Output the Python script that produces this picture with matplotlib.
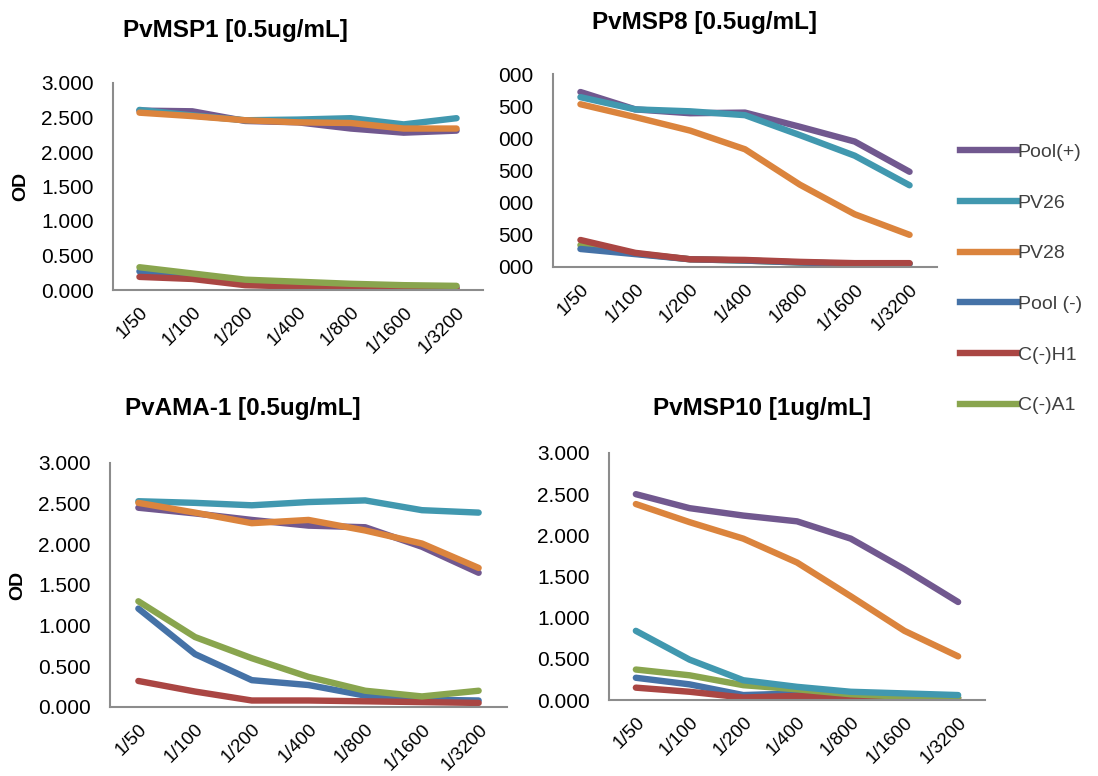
import matplotlib
matplotlib.use("Agg")
import matplotlib.pyplot as plt
from matplotlib.lines import Line2D

W, H = 1098, 776
categories = ["1/50", "1/100", "1/200", "1/400", "1/800", "1/1600", "1/3200"]
series_names = ["Pool(+)", "PV26", "PV28", "Pool (-)", "C(-)H1", "C(-)A1"]
colors = ["#71588F", "#4198AF", "#DB843D", "#4572A7", "#AA4643", "#89A54E"]

# PvMSP1 [0.5ug/mL]
msp1_pool_pos = [2.60, 2.59, 2.45, 2.43, 2.34, 2.28, 2.31]
msp1_pv26 = [2.61, 2.53, 2.46, 2.47, 2.49, 2.40, 2.49]
msp1_pv28 = [2.57, 2.52, 2.46, 2.43, 2.42, 2.34, 2.34]
msp1_pool_neg = [0.27, 0.20, 0.08, 0.06, 0.05, 0.04, 0.04]
msp1_ch1 = [0.19, 0.16, 0.07, 0.05, 0.03, 0.02, 0.02]
msp1_ca1 = [0.33, 0.24, 0.15, 0.12, 0.09, 0.07, 0.06]

# PvMSP8 [0.5ug/mL]
msp8_pool_pos = [2.72, 2.45, 2.39, 2.40, 2.18, 1.95, 1.48]
msp8_pv26 = [2.64, 2.45, 2.42, 2.36, 2.05, 1.73, 1.27]
msp8_pv28 = [2.53, 2.33, 2.12, 1.83, 1.28, 0.82, 0.50]
msp8_pool_neg = [0.28, 0.20, 0.12, 0.10, 0.07, 0.05, 0.05]
msp8_ch1 = [0.42, 0.22, 0.12, 0.11, 0.08, 0.06, 0.06]
msp8_ca1 = [0.34, 0.21, 0.12, 0.10, 0.07, 0.05, 0.05]

# PvAMA-1 [0.5ug/mL]
ama1_pool_pos = [2.45, 2.38, 2.30, 2.23, 2.21, 1.97, 1.65]
ama1_pv26 = [2.53, 2.51, 2.48, 2.52, 2.54, 2.42, 2.39]
ama1_pv28 = [2.51, 2.39, 2.26, 2.30, 2.17, 2.01, 1.71]
ama1_pool_neg = [1.21, 0.65, 0.33, 0.27, 0.14, 0.09, 0.08]
ama1_ch1 = [0.32, 0.19, 0.08, 0.08, 0.07, 0.06, 0.05]
ama1_ca1 = [1.30, 0.86, 0.60, 0.37, 0.20, 0.13, 0.20]

# PvMSP10 [1ug/mL]
msp10_pool_pos = [2.50, 2.33, 2.24, 2.17, 1.96, 1.59, 1.19]
msp10_pv26 = [0.84, 0.49, 0.24, 0.16, 0.10, 0.08, 0.06]
msp10_pv28 = [2.38, 2.16, 1.96, 1.67, 1.26, 0.84, 0.53]
msp10_pool_neg = [0.27, 0.19, 0.06, 0.08, 0.05, 0.04, 0.03]
msp10_ch1 = [0.15, 0.10, 0.03, 0.05, 0.03, 0.02, 0.02]
msp10_ca1 = [0.37, 0.30, 0.18, 0.13, 0.07, 0.04, 0.03]

y_ticks = [0.0, 0.5, 1.0, 1.5, 2.0, 2.5, 3.0]
y_labels = ["0.000", "0.500", "1.000", "1.500", "2.000", "2.500", "3.000"]
y_labels_cut = ["000", "500", "000", "500", "000", "500", "000"]

panels = [
    dict(title="PvMSP1 [0.5ug/mL]", rect=(113, 483, 83, 290), tpos=(235, 31), od=True,
         data=[msp1_pool_pos, msp1_pv26, msp1_pv28, msp1_pool_neg, msp1_ch1, msp1_ca1],
         order=[0, 1, 2, 3, 4, 5], ylab=y_labels),
    dict(title="PvMSP8 [0.5ug/mL]", rect=(553, 937, 74, 267), tpos=(705, 22), od=False,
         data=[msp8_pool_pos, msp8_pv26, msp8_pv28, msp8_pool_neg, msp8_ch1, msp8_ca1],
         order=[0, 1, 2, 5, 3, 4], ylab=y_labels_cut),
    dict(title="PvAMA-1 [0.5ug/mL]", rect=(110, 507, 463, 707), tpos=(243, 409), od=True,
         data=[ama1_pool_pos, ama1_pv26, ama1_pv28, ama1_pool_neg, ama1_ch1, ama1_ca1],
         order=[0, 1, 2, 3, 4, 5], ylab=y_labels),
    dict(title="PvMSP10 [1ug/mL]", rect=(609, 985, 453, 700), tpos=(762, 409), od=False,
         data=[msp10_pool_pos, msp10_pv26, msp10_pv28, msp10_pool_neg, msp10_ch1, msp10_ca1],
         order=[0, 2, 3, 4, 5, 1], ylab=y_labels),
]

plt.rcParams["font.family"] = ["Liberation Sans", "DejaVu Sans"]
fig = plt.figure(figsize=(W / 100, H / 100), dpi=100)
fig.patch.set_facecolor("white")

axis_col = "#8C8C8C"
x = list(range(len(categories)))
for p in panels:
    l, r, t, b = p["rect"]
    ax = fig.add_axes([l / W, 1 - b / H, (r - l) / W, (b - t) / H])
    for k in p["order"]:
        ax.plot(x, p["data"][k], color=colors[k], lw=4.6, solid_capstyle="round",
                solid_joinstyle="round", label=series_names[k])
    ax.set_xlim(-0.5, len(categories) - 0.5)
    ax.set_ylim(0, 3.0)
    ax.set_yticks(y_ticks)
    ax.set_yticklabels(p["ylab"], fontsize=15)
    ax.set_xticks(x)
    ax.set_xticklabels(categories, fontsize=13.5, rotation=45, ha="right", va="top",
                       rotation_mode="anchor")
    ax.tick_params(axis="both", length=0, colors="black")
    ax.tick_params(axis="x", pad=10)
    ax.tick_params(axis="y", pad=14)
    for s in ["top", "right"]:
        ax.spines[s].set_visible(False)
    for s in ["left", "bottom"]:
        ax.spines[s].set_color(axis_col)
        ax.spines[s].set_linewidth(1.5)
    ax.set_facecolor("none")
    if p["od"]:
        ax.set_ylabel("OD", fontsize=14, fontweight="bold", labelpad=8)
    fig.text(p["tpos"][0] / W, 1 - p["tpos"][1] / H, p["title"], ha="center", va="center",
             fontsize=17.5, fontweight="bold")

handles = [Line2D([0], [0], color=c, lw=4.6) for c in colors]
fig.legend(handles, series_names, loc="upper left", bbox_to_anchor=(942 / W, 1 - 126 / H),
           frameon=False, fontsize=14, handlelength=2.95, handletextpad=0.05,
           labelspacing=1.7, labelcolor="#404040")

fig.savefig("out.png", dpi=100, facecolor="white")
